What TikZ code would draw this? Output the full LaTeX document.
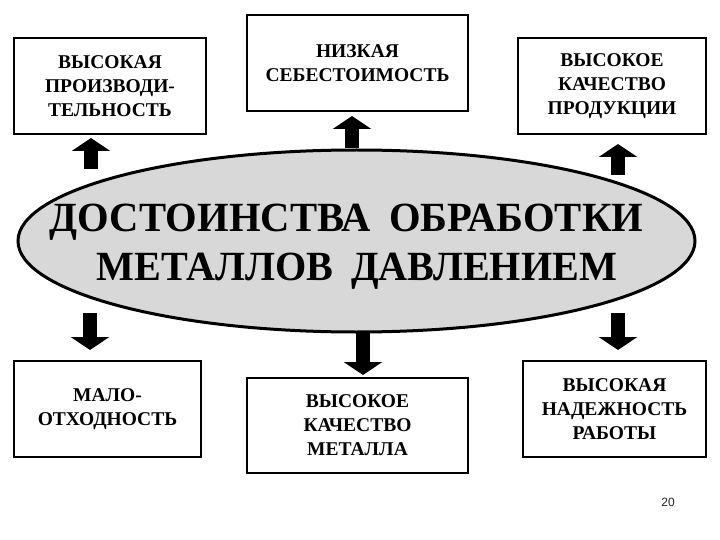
\documentclass[tikz,border=0pt]{standalone}
\usepackage{fontspec}
\usepackage{graphicx}
\setmainfont{Liberation Serif}
\newfontfamily\pagefont{Liberation Sans}
\usetikzlibrary{arrows.meta,shapes.geometric}
\definecolor{ellgray}{RGB}{216,216,216}
\tikzset{
  infobox/.style={draw=black, line width=2pt, fill=white, inner sep=0pt, align=center,
    font=\fontsize{19.5}{24}\selectfont\bfseries},
  blockarrow/.style={line width=14pt, -{Triangle[width=38pt,length=13pt]}},
}
\begin{document}
\begin{tikzpicture}[x=1pt,y=-1pt]
\useasboundingbox (0,0) rectangle (720,540);
\fill[white] (0,0) rectangle (720,540);

% central ellipse
\node[ellipse, draw=black, line width=3pt, fill=ellgray, inner sep=0pt,
      minimum width=677pt, minimum height=182pt] (ell) at (356.5,241) {};
\node[anchor=base, inner sep=0pt, font=\bfseries] (t1) at (346.5,232)
  {\resizebox{593pt}{27.5pt}{ДОСТОИНСТВА\hspace{0.45em}ОБРАБОТКИ}};
\node[anchor=base, inner sep=0pt, font=\bfseries] (t2) at (357,280)
  {\resizebox{520pt}{27.5pt}{МЕТАЛЛОВ\hspace{0.45em}ДАВЛЕНИЕМ}};

% boxes
\node[infobox, minimum width=192pt, minimum height=96pt] (b1) at (110,86)
  {ВЫСОКАЯ\\ПРОИЗВОДИ-\\ТЕЛЬНОСТЬ};
\node[infobox, minimum width=221pt, minimum height=96pt] (b2) at (357.5,63)
  {НИЗКАЯ\\СЕБЕСТОИМОСТЬ};
\node[infobox, minimum width=188pt, minimum height=96pt] (b3) at (612,86)
  {ВЫСОКОЕ\\КАЧЕСТВО\\ПРОДУКЦИИ};
\node[infobox, minimum width=187pt, minimum height=96pt] (b4) at (107.5,409)
  {МАЛО-\\ОТХОДНОСТЬ};
\node[infobox, minimum width=221pt, minimum height=95pt] (b5) at (357.5,425.5)
  {ВЫСОКОЕ\\КАЧЕСТВО\\МЕТАЛЛА};
\node[infobox, minimum width=183pt, minimum height=96pt] (b6) at (614.5,409)
  {ВЫСОКАЯ\\НАДЕЖНОСТЬ\\РАБОТЫ};

% arrow end points
\coordinate (a1s) at (91,169);  \coordinate (a1e) at (91,138);
\coordinate (a2s) at (352,148); \coordinate (a2e) at (352,116);
\coordinate (a3s) at (618,175); \coordinate (a3e) at (618,144);
\coordinate (a4s) at (90,313);  \coordinate (a4e) at (90,350);
\coordinate (a5s) at (363,333); \coordinate (a5e) at (363,375);
\coordinate (a6s) at (618,313); \coordinate (a6e) at (618,350);

\draw[blockarrow] (a1s) -- (a1e);
\draw[blockarrow] (a2s) -- (a2e);
\draw[blockarrow] (a3s) -- (a3e);
\draw[blockarrow] (a4s) -- (a4e);
\draw[blockarrow] (a5s) -- (a5e);
\draw[blockarrow] (a6s) -- (a6e);

% page number
\node[font=\pagefont\fontsize{12}{14}\selectfont, text=black!85, inner sep=0pt] (pg) at (668,502) {20};
\end{tikzpicture}
\end{document}
